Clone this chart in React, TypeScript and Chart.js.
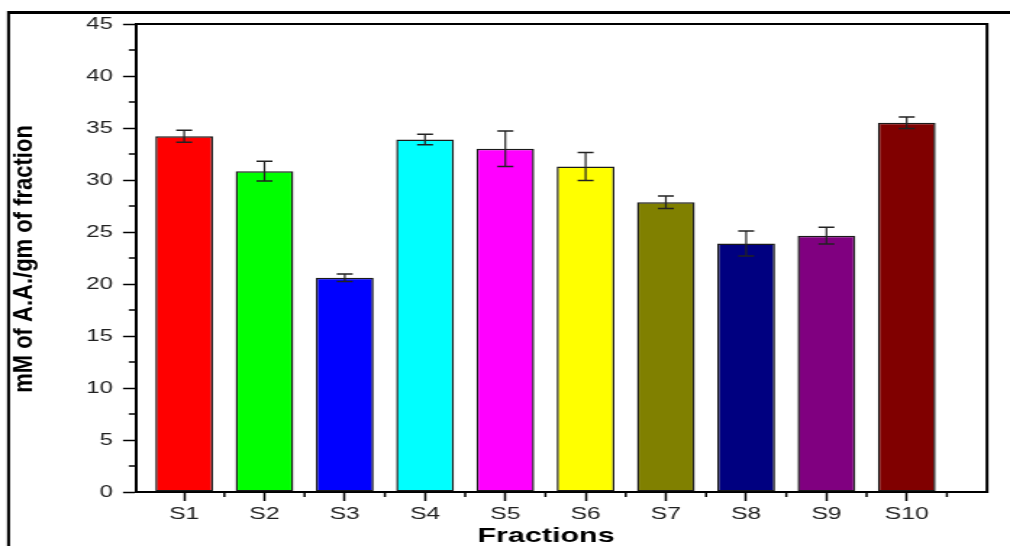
import React, { useEffect, useRef } from 'react';
import { Chart, registerables } from 'chart.js';

Chart.register(...registerables);

// ---- data ----
const categories = ['S1', 'S2', 'S3', 'S4', 'S5', 'S6', 'S7', 'S8', 'S9', 'S10'];
const positions = [1, 2, 3, 4, 5, 6, 7, 8, 9, 10];
const values = [34.2, 30.85, 20.6, 33.9, 33.0, 31.3, 27.85, 23.9, 24.65, 35.5];
const errors = [0.58, 0.95, 0.35, 0.5, 1.7, 1.35, 0.6, 1.2, 0.8, 0.56];
const barColors = ['#ff0000', '#00ff00', '#0000ff', '#00ffff', '#ff00ff', '#ffff00', '#808000', '#000080', '#800080', '#800000'];
const yTicks = [0, 5, 10, 15, 20, 25, 30, 35, 40, 45];
const yMinorTicks = [2.5, 7.5, 12.5, 17.5, 22.5, 27.5, 32.5, 37.5, 42.5];
const xMinorTicks = [1.5, 2.5, 3.5, 4.5, 5.5, 6.5, 7.5, 8.5, 9.5, 10.5];
const xTitle = 'Fractions';
const yTitle = 'mM of A.A./gm of fraction';

const CW = 697; // internal canvas width, stretched to 1010 on screen
const CH = 546;
const SX = 1010 / CW;
const FAMILY = '"Liberation Sans", Arial, Helvetica, sans-serif';

export default function App() {
  const ref = useRef<HTMLCanvasElement>(null);

  useEffect(() => {
    const canvas = ref.current;
    if (!canvas) return;

    const decor = {
      id: 'decor',
      afterDatasetsDraw(chart: any) {
        const { ctx, scales } = chart;
        const xs = scales.x;
        const ys = scales.y;
        ctx.save();
        ctx.strokeStyle = '#222';
        positions.forEach((p, i) => {
          const px = xs.getPixelForValue(p);
          const top = ys.getPixelForValue(values[i] + errors[i]);
          const bot = ys.getPixelForValue(values[i] - errors[i]);
          ctx.lineWidth = 1.2;
          ctx.beginPath();
          ctx.moveTo(px, top);
          ctx.lineTo(px, bot);
          ctx.stroke();
          ctx.lineWidth = 1.5;
          ctx.beginPath();
          ctx.moveTo(px - 5.5, top);
          ctx.lineTo(px + 5.5, top);
          ctx.moveTo(px - 5.5, bot);
          ctx.lineTo(px + 5.5, bot);
          ctx.stroke();
        });
        ctx.restore();
      },
      afterDraw(chart: any) {
        const { ctx, chartArea: a, scales } = chart;
        const xs = scales.x;
        const ys = scales.y;
        ctx.save();
        ctx.strokeStyle = '#000';
        // top and right frame of the plot
        ctx.lineWidth = 2;
        ctx.beginPath();
        ctx.moveTo(a.left, a.top);
        ctx.lineTo(a.right, a.top);
        ctx.lineTo(a.right, a.bottom + 1);
        ctx.stroke();
        // minor ticks
        ctx.lineWidth = 1.5;
        ctx.beginPath();
        yMinorTicks.forEach((v) => {
          const py = ys.getPixelForValue(v);
          ctx.moveTo(a.left - 5, py);
          ctx.lineTo(a.left, py);
        });
        xMinorTicks.forEach((v) => {
          const px = xs.getPixelForValue(v);
          ctx.moveTo(px, a.bottom);
          ctx.lineTo(px, a.bottom + 5);
        });
        ctx.stroke();
        // outer figure frame
        ctx.lineWidth = 3;
        ctx.beginPath();
        ctx.moveTo(8 / SX, 12.5);
        ctx.lineTo(CW, 12.5);
        ctx.stroke();
        ctx.lineWidth = 3 / SX;
        ctx.beginPath();
        ctx.moveTo(8.5 / SX, 11);
        ctx.lineTo(8.5 / SX, CH);
        ctx.stroke();
        // axis titles
        ctx.fillStyle = '#000';
        ctx.textAlign = 'center';
        ctx.textBaseline = 'middle';
        ctx.font = 'bold 21px ' + FAMILY;
        ctx.fillText(xTitle, 546 / SX, 536);
        ctx.translate(25 / SX, 259);
        ctx.rotate(-Math.PI / 2);
        ctx.scale(1, 1.15 / SX);
        ctx.font = 'bold 22px ' + FAMILY;
        ctx.fillText(yTitle, 0, 0);
        ctx.restore();
      },
    };

    const chart = new Chart(canvas, {
      type: 'bar',
      data: {
        datasets: [
          {
            data: positions.map((p, i) => ({ x: p, y: values[i] })),
            backgroundColor: barColors,
            borderColor: '#1a1a1a',
            borderWidth: 1.5,
            borderSkipped: false,
            barPercentage: 0.72,
            categoryPercentage: 1,
          } as any,
        ],
      },
      options: {
        responsive: false,
        animation: false,
        devicePixelRatio: 1,
        layout: { padding: { left: 0, right: CW - 987 / SX, top: 24, bottom: 0 } },
        plugins: { legend: { display: false }, tooltip: { enabled: false } },
        scales: {
          x: {
            type: 'linear',
            min: 0.4,
            max: 11,
            offset: false,
            afterBuildTicks: (s: any) => {
              s.ticks = positions.map((v) => ({ value: v }));
            },
            afterFit: (s: any) => {
              s.height = 54;
            },
            ticks: {
              callback: (v: any) => categories[Number(v) - 1] ?? '',
              font: { family: FAMILY, size: 17 },
              color: '#222',
              padding: 3,
              maxRotation: 0,
              autoSkip: false,
            },
            grid: { offset: false, drawOnChartArea: false, drawTicks: true, tickLength: 9, color: '#000', tickWidth: 1.5 },
            border: { display: true, color: '#000', width: 2 },
          } as any,
          y: {
            type: 'linear',
            min: 0,
            max: 45,
            afterBuildTicks: (s: any) => {
              s.ticks = yTicks.map((v) => ({ value: v }));
            },
            afterFit: (s: any) => {
              s.width = 136 / SX;
            },
            ticks: {
              font: { family: FAMILY, size: 16.5 },
              color: '#222',
              padding: 7,
            },
            grid: { drawOnChartArea: false, drawTicks: true, tickLength: 9, color: '#000', tickWidth: 1.5 },
            border: { display: true, color: '#000', width: 2 },
          } as any,
        },
      },
      plugins: [decor],
    });

    return () => chart.destroy();
  }, []);

  return (
    <div style={{ position: 'fixed', left: 0, top: 0, width: '1010px', height: '546px', background: '#fff' }}>
      <canvas ref={ref} width={CW} height={CH} style={{ width: '1010px', height: '546px', display: 'block' }} />
    </div>
  );
}
